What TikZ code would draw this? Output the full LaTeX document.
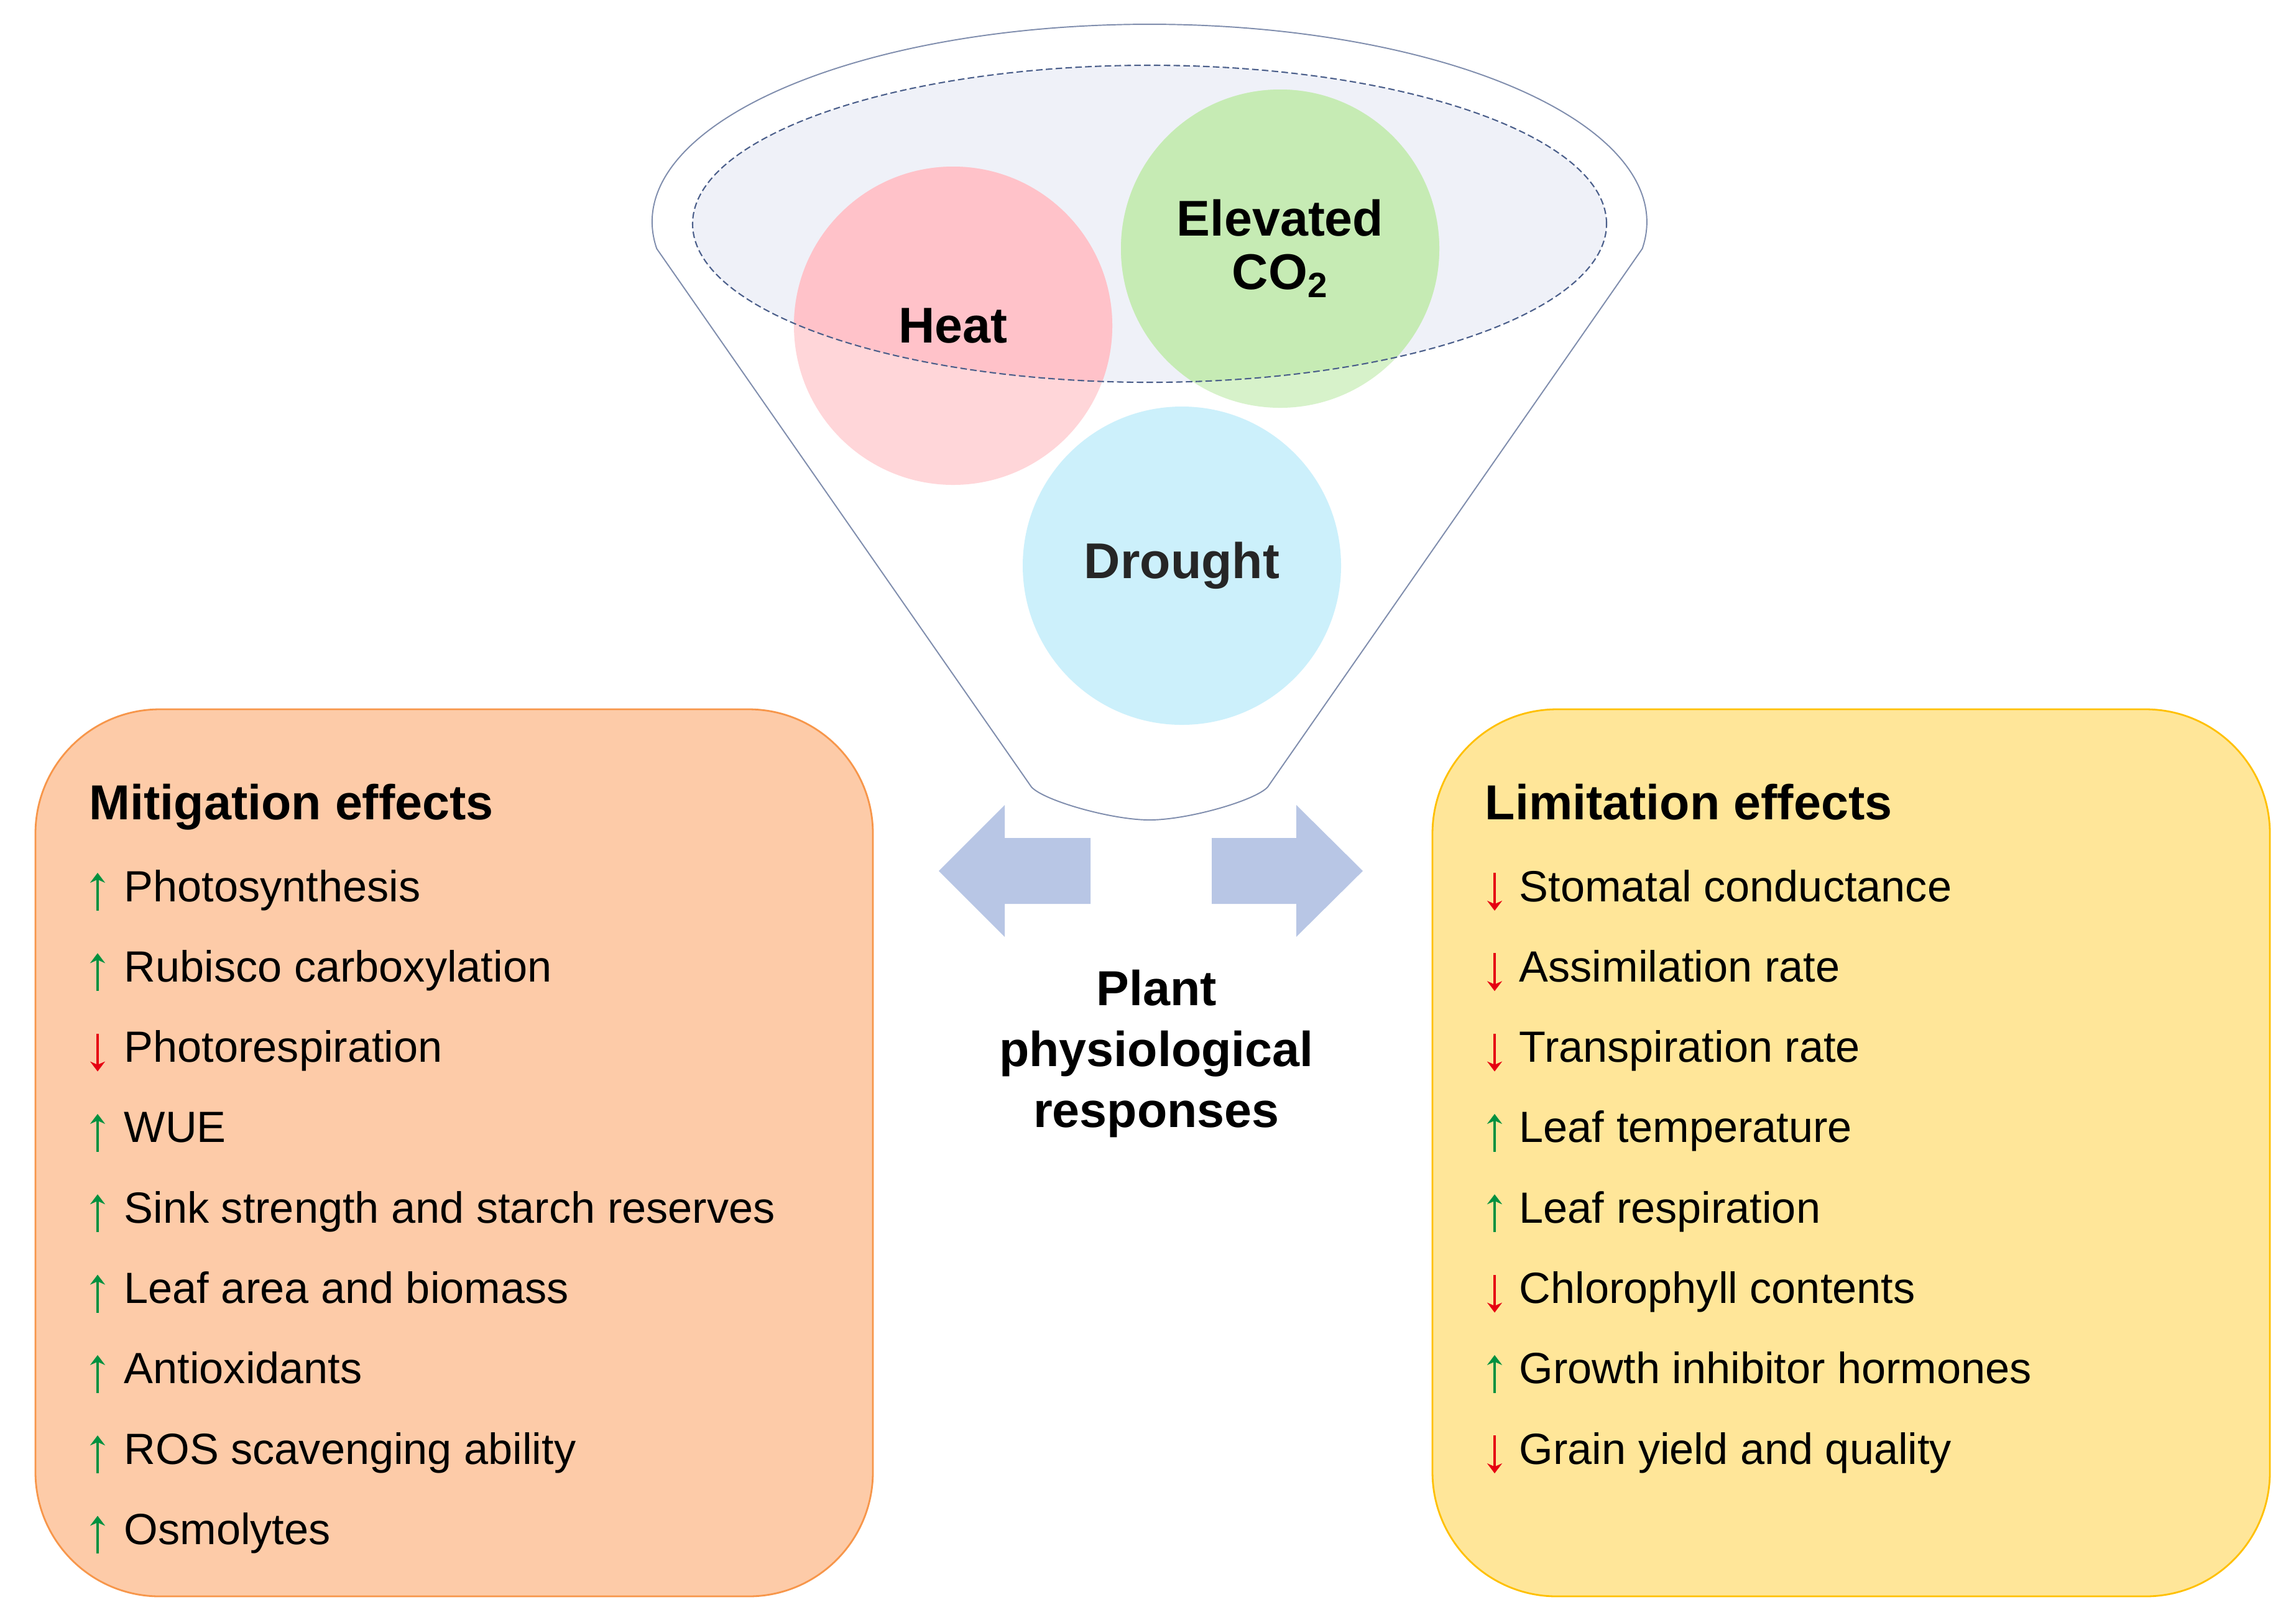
\documentclass[tikz,border=0pt]{standalone}
\usepackage{fontspec}
\setmainfont{Liberation Sans}
\usetikzlibrary{arrows.meta,positioning}
\definecolor{peachfill}{HTML}{FDCBA8}
\definecolor{peachline}{HTML}{F7964A}
\definecolor{sandfill}{HTML}{FFE699}
\definecolor{sandline}{HTML}{FFC000}
\definecolor{funnelline}{HTML}{7F8DAD}
\definecolor{rimfill}{HTML}{EFF1F8}
\definecolor{rimline}{HTML}{4A5E8A}
\definecolor{heatout}{HTML}{FFD6D9}
\definecolor{heatin}{HTML}{FFC2C9}
\definecolor{co2out}{HTML}{D7F2CA}
\definecolor{co2in}{HTML}{C6EBB4}
\definecolor{droughtfill}{HTML}{CCF0FB}
\definecolor{blockblue}{HTML}{B8C6E5}
\definecolor{upgreen}{HTML}{00913F}
\definecolor{dnred}{HTML}{E60012}
\tikzset{
    effbox/.style = {draw, line width=0.8pt, rounded corners=2cm},
    stress/.style = {circle, minimum size=5.12cm, inner sep=0pt, align=center,
        font=\bfseries\fontsize{23}{24.5}\selectfont},
    title/.style = {anchor=base west, inner sep=0pt,
        font=\bfseries\fontsize{22.5}{27}\selectfont},
    item/.style = {anchor=base west, inner sep=0pt, font=\fontsize{20}{24}\selectfont},
    upar/.style = {draw=upgreen, line width=1pt, -{Stealth[length=1.6mm,width=2.4mm]}},
    dnar/.style = {draw=dnred, line width=1pt, {Stealth[length=1.6mm,width=2.4mm]}-},
    funnel/.style = {draw=funnelline, line width=0.55pt, fill=white},
    bigarrow/.style = {fill=blockblue}
}
\def\rblock{%
    -- ++(0,0.53) -- ++(1.36,0) -- ++(0,0.53) -- ++(1.07,-1.06) -- ++(-1.07,-1.06) -- ++(0,0.53) -- ++(-1.36,0) -- cycle
}
\def\lblock{%
    -- ++(0,0.53) -- ++(-1.38,0) -- ++(0,0.53) -- ++(-1.06,-1.06) -- ++(1.06,-1.06) -- ++(0,0.53) -- ++(1.38,0) -- cycle
}

\begin{document}
\begin{tikzpicture}
    \fill [white] (0,0) rectangle (36.93,-25.97);
    \useasboundingbox (0,0) rectangle (36.93,-25.97);
    % funnel
    \coordinate (rimc) at (18.49,-3.60);
    \draw [funnel] (16.59,-12.66) -- (10.563,-4.0)
        arc [start angle=187.77, end angle=-7.77, x radius=8, y radius=3.18]
        -- (20.39,-12.66) .. controls (20.19,-12.88) and (19.1,-13.19) .. (18.49,-13.19)
        .. controls (17.88,-13.19) and (16.79,-12.88) .. cycle;
    \fill [rimfill] (rimc) ellipse [x radius=7.35, y radius=2.55];
    \coordinate (heatc) at (15.33,-5.24);
    \coordinate (co2c) at (20.59,-4.00);
    \coordinate (droughtc) at (19.01,-9.10);
    \fill [heatout] (heatc) circle (2.56);
    \fill [co2out] (co2c) circle (2.56);
    \fill [droughtfill] (droughtc) circle (2.56);
    \begin{scope}
        \clip (rimc) ellipse [x radius=7.35, y radius=2.55];
        \fill [heatin] (heatc) circle (2.56);
        \fill [co2in] (co2c) circle (2.56);
    \end{scope}
    \draw [rimline, line width=0.6pt, dash pattern=on 3pt off 1.5pt] (rimc) ellipse [x radius=7.35, y radius=2.55];
    \node [stress] (heat) at (heatc) {Heat};
    \node [stress] (co2) at (co2c) {Elevated\\CO\textsubscript{2}};
    \node [stress, text=black!85] (drought) at (droughtc) {Drought};
    % block arrows
    \coordinate (larr) at (17.54,-14.01);
    \coordinate (rarr) at (19.49,-14.01);
    \fill [bigarrow] (larr) \lblock;
    \fill [bigarrow] (rarr) \rblock;
    \node [align=center, font=\bfseries\fontsize{22.5}{27.9}\selectfont] (resp) at (18.60,-16.95) {Plant\\physiological\\responses};
    % effect boxes
    \draw [effbox, draw=peachline, fill=peachfill] (0.57,-11.41) rectangle (14.04,-25.68);
    \draw [effbox, draw=sandline, fill=sandfill] (23.04,-11.41) rectangle (36.51,-25.68);
    \node [title] (mitig) at (1.43,-13.18) {Mitigation effects};
    \node [title] (limit) at (23.88,-13.18) {Limitation effects};
    \foreach \d/\t [count=\i] in {upar/Photosynthesis, upar/Rubisco carboxylation, dnar/Photorespiration,
        upar/WUE, upar/Sink strength and starch reserves, upar/Leaf area and biomass,
        upar/Antioxidants, upar/ROS scavenging ability, upar/Osmolytes} {
        \node [item] (mit\i) at (1.99,{-14.50-1.293*(\i-1)}) {\t};
        \draw [\d] ([xshift=-4.2mm,yshift=-1.5mm]mit\i.base west) -- ++(0,0.61);
    }
    \foreach \d/\t [count=\i] in {dnar/Stomatal conductance, dnar/Assimilation rate, dnar/Transpiration rate,
        upar/Leaf temperature, upar/Leaf respiration, dnar/Chlorophyll contents,
        upar/Growth inhibitor hormones, dnar/Grain yield and quality} {
        \node [item] (lim\i) at (24.43,{-14.50-1.293*(\i-1)}) {\t};
        \draw [\d] ([xshift=-3.9mm,yshift=-1.5mm]lim\i.base west) -- ++(0,0.61);
    }
\end{tikzpicture}
\end{document}
